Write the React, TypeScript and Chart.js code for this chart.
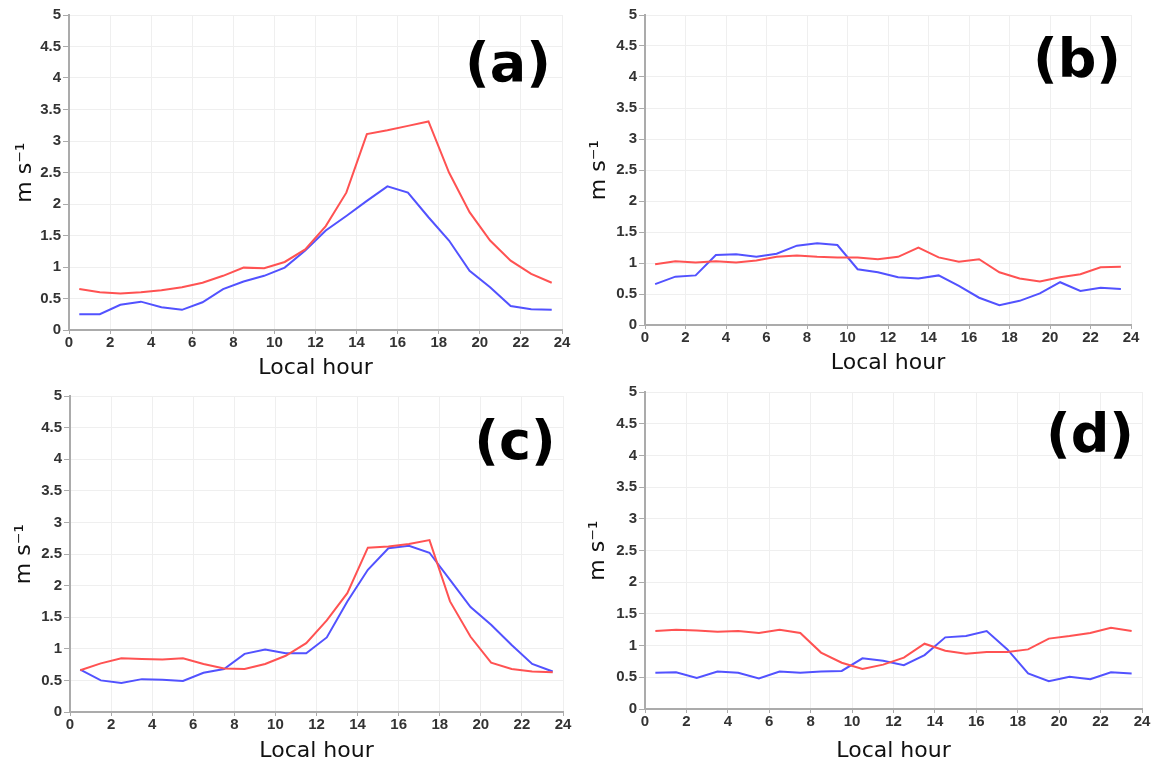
import React, { useEffect, useRef } from "react";
import { Chart, registerables } from "chart.js";

Chart.register(...registerables);

// ---------- data ----------
const HOURS = [0.5, 1.5, 2.5, 3.5, 4.5, 5.5, 6.5, 7.5, 8.5, 9.5, 10.5, 11.5, 12.5, 13.5, 14.5, 15.5, 16.5, 17.5, 18.5, 19.5, 20.5, 21.5, 22.5, 23.5];

const X_MIN = 0;
const X_MAX = 24;
const X_STEP = 2;
const Y_MIN = 0;
const Y_MAX = 5;
const Y_STEP = 0.5;

const X_TITLE = "Local hour";
const Y_TITLE = "m s\u207B\u00B9";

const RED_A = [0.65, 0.60, 0.58, 0.60, 0.63, 0.68, 0.75, 0.86, 0.99, 0.98, 1.08, 1.28, 1.65, 2.18, 3.11, 3.17, 3.24, 3.31, 2.50, 1.87, 1.42, 1.10, 0.89, 0.75];
const BLUE_A = [0.25, 0.25, 0.40, 0.45, 0.36, 0.32, 0.44, 0.65, 0.77, 0.86, 0.99, 1.26, 1.58, 1.81, 2.05, 2.28, 2.18, 1.79, 1.42, 0.94, 0.68, 0.38, 0.33, 0.32];

const RED_B = [0.98, 1.03, 1.01, 1.03, 1.01, 1.04, 1.10, 1.12, 1.10, 1.09, 1.09, 1.06, 1.10, 1.25, 1.09, 1.02, 1.06, 0.85, 0.75, 0.70, 0.77, 0.82, 0.93, 0.94];
const BLUE_B = [0.66, 0.78, 0.80, 1.13, 1.14, 1.10, 1.15, 1.28, 1.32, 1.29, 0.90, 0.85, 0.77, 0.75, 0.80, 0.63, 0.44, 0.32, 0.39, 0.51, 0.69, 0.55, 0.60, 0.58];

const RED_C = [0.66, 0.77, 0.85, 0.84, 0.83, 0.85, 0.76, 0.69, 0.68, 0.76, 0.89, 1.09, 1.45, 1.88, 2.60, 2.62, 2.66, 2.72, 1.75, 1.19, 0.78, 0.68, 0.64, 0.63];
const BLUE_C = [0.67, 0.50, 0.46, 0.52, 0.51, 0.49, 0.62, 0.68, 0.92, 0.99, 0.93, 0.93, 1.18, 1.75, 2.25, 2.59, 2.63, 2.52, 2.09, 1.66, 1.38, 1.06, 0.76, 0.64];

const RED_D = [1.23, 1.25, 1.24, 1.22, 1.23, 1.20, 1.25, 1.20, 0.89, 0.73, 0.63, 0.70, 0.81, 1.03, 0.92, 0.87, 0.90, 0.90, 0.94, 1.11, 1.15, 1.20, 1.28, 1.23];
const BLUE_D = [0.57, 0.58, 0.49, 0.59, 0.57, 0.48, 0.59, 0.57, 0.59, 0.60, 0.80, 0.76, 0.69, 0.85, 1.13, 1.15, 1.23, 0.94, 0.56, 0.44, 0.51, 0.47, 0.58, 0.56];

const PANEL_LABELS = ["(a)", "(b)", "(c)", "(d)"];

// ---------- styles ----------
const RED = "#ff5252";
const BLUE = "#5252ff";
const GRID = "#efefef";
const AXIS = "#ababab";
const TICK_COLOR = "#333333";
const TICK_FONT = { family: "'Liberation Sans', Arial, sans-serif", size: 15, weight: "bold" as const };
const TITLE_FONT = { family: "'DejaVu Sans', sans-serif", size: 22 };

type Layout = {
  left: number; top: number; width: number; height: number;
  padTop: number; padRight: number; yAxisW: number; xAxisH: number;
  yTitlePad: number; xTitlePad: number;
  labelX: number; labelY: number;
};

const LAYOUTS: Layout[] = [
  { left: 0, top: 0, width: 580, height: 380, padTop: 15, padRight: 18, yAxisW: 69, xAxisH: 50, yTitlePad: 12, xTitlePad: -1, labelX: 508, labelY: 67 },
  { left: 580, top: 0, width: 573, height: 380, padTop: 15, padRight: 22, yAxisW: 65, xAxisH: 55, yTitlePad: 6, xTitlePad: 4, labelX: 497, labelY: 63 },
  { left: 0, top: 380, width: 580, height: 380, padTop: 16, padRight: 17, yAxisW: 70, xAxisH: 48, yTitlePad: 11, xTitlePad: -4, labelX: 515, labelY: 65 },
  { left: 580, top: 380, width: 573, height: 380, padTop: 12, padRight: 11, yAxisW: 65, xAxisH: 51, yTitlePad: 5, xTitlePad: -4, labelX: 510, labelY: 58 },
];

const panelLabelPlugin = {
  id: "panelLabel",
  afterDatasetsDraw(chart: any, _args: any, opts: any) {
    const ctx = chart.ctx;
    ctx.save();
    ctx.font = "bold 54px 'DejaVu Sans', sans-serif";
    ctx.fillStyle = "#000";
    ctx.textAlign = "center";
    ctx.textBaseline = "middle";
    ctx.fillText(opts.text, opts.x, opts.y);
    ctx.restore();
  },
};

function Panel({ red, blue, label, lay }: { red: number[]; blue: number[]; label: string; lay: Layout }) {
  const ref = useRef<HTMLCanvasElement | null>(null);
  useEffect(() => {
    if (!ref.current) return;
    const chart = new Chart(ref.current, {
      type: "line",
      data: {
        datasets: [
          { label: "red", data: HOURS.map((h, i) => ({ x: h, y: red[i] })), borderColor: RED, backgroundColor: RED, borderWidth: 2, pointRadius: 0, tension: 0 },
          { label: "blue", data: HOURS.map((h, i) => ({ x: h, y: blue[i] })), borderColor: BLUE, backgroundColor: BLUE, borderWidth: 2, pointRadius: 0, tension: 0 },
        ],
      },
      options: {
        responsive: false,
        animation: false,
        devicePixelRatio: 1,
        layout: { padding: { top: lay.padTop, right: lay.padRight, left: 0, bottom: 0 } },
        plugins: {
          legend: { display: false },
          tooltip: { enabled: false },
          panelLabel: { text: label, x: lay.labelX, y: lay.labelY },
        } as any,
        scales: {
          x: {
            type: "linear",
            min: X_MIN,
            max: X_MAX,
            ticks: { stepSize: X_STEP, color: TICK_COLOR, font: TICK_FONT, padding: 0, maxRotation: 0, autoSkip: false, callback: (v: any) => String(Number(v)) },
            grid: { color: GRID, tickColor: AXIS, tickLength: 4 },
            border: { color: AXIS, width: 2 },
            title: { display: true, text: X_TITLE, color: "#111", font: TITLE_FONT, padding: { top: 0, bottom: lay.xTitlePad } },
            afterFit: (s: any) => { s.height = lay.xAxisH; },
          },
          y: {
            type: "linear",
            min: Y_MIN,
            max: Y_MAX,
            ticks: { stepSize: Y_STEP, color: TICK_COLOR, font: TICK_FONT, padding: 2, callback: (v: any) => String(Number(v)) },
            grid: { color: GRID, tickColor: AXIS, tickLength: 6 },
            border: { color: AXIS, width: 2 },
            title: { display: true, text: Y_TITLE, color: "#111", font: TITLE_FONT, padding: { top: lay.yTitlePad, bottom: 0 } },
            afterFit: (s: any) => { s.width = lay.yAxisW; },
          },
        },
      } as any,
      plugins: [panelLabelPlugin],
    });
    return () => chart.destroy();
  }, [red, blue, label, lay]);

  return (
    <canvas
      ref={ref}
      width={lay.width}
      height={lay.height}
      style={{ position: "absolute", left: lay.left, top: lay.top, width: lay.width, height: lay.height }}
    />
  );
}

export default function App() {
  const series = [
    [RED_A, BLUE_A],
    [RED_B, BLUE_B],
    [RED_C, BLUE_C],
    [RED_D, BLUE_D],
  ];
  return (
    <div style={{ position: "absolute", left: 0, top: 0, width: 1153, height: 760, background: "#fff", overflow: "hidden" }}>
      {series.map((s, i) => (
        <Panel key={i} red={s[0]} blue={s[1]} label={PANEL_LABELS[i]} lay={LAYOUTS[i]} />
      ))}
    </div>
  );
}
